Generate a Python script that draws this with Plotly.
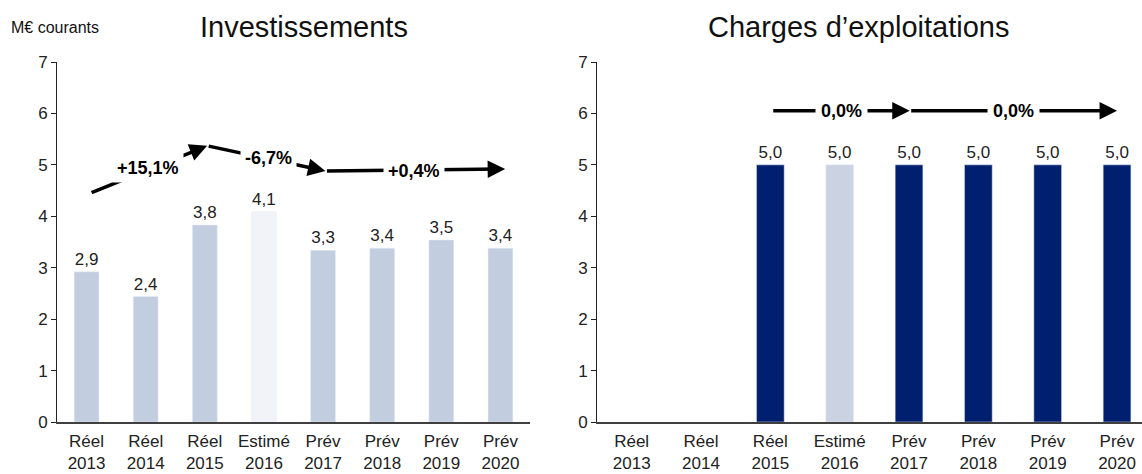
import plotly.graph_objects as go
from plotly.subplots import make_subplots

categories = ["Réel<br>2013", "Réel<br>2014", "Réel<br>2015", "Estimé<br>2016",
              "Prév<br>2017", "Prév<br>2018", "Prév<br>2019", "Prév<br>2020"]

invest_values = [2.92, 2.44, 3.83, 4.09, 3.34, 3.38, 3.54, 3.38]
invest_labels = ["2,9", "2,4", "3,8", "4,1", "3,3", "3,4", "3,5", "3,4"]

charges_values = [None, None, 5.0, 5.0, 5.0, 5.0, 5.0, 5.0]
charges_labels = ["", "", "5,0", "5,0", "5,0", "5,0", "5,0", "5,0"]

# growth arrows (x in category index units)
invest_arrow_x0 = [0.06, 2.04, 4.04]
invest_arrow_y0 = [4.45, 5.37, 4.88]
invest_arrow_x1 = [2.04, 4.04, 7.08]
invest_arrow_y1 = [5.37, 4.88, 4.92]
invest_growth = ["+15,1%", "-6,7%", "+0,4%"]
invest_growth_x = [1.04, 3.07, 5.54]
invest_growth_y = [4.94, 5.14, 4.88]

charges_arrow_x0 = [2.02, 4.01]
charges_arrow_x1 = [4.01, 7.0]
charges_arrow_y = [6.05, 6.05]
charges_growth = ["0,0%", "0,0%"]
charges_growth_x = [3.02, 5.51]

LIGHT = "#c3cde0"
PALE = "#f2f3f8"
NAVY = "#001f6e"
GREYBLUE = "#cbd3e3"
FONT = "Arial, Liberation Sans, sans-serif"

invest_colors = [PALE if c.startswith("Estimé") else LIGHT for c in categories]
charges_colors = [GREYBLUE if c.startswith("Estimé") else NAVY for c in categories]

W, H = 1142, 474

fig = make_subplots(rows=1, cols=2)

fig.add_trace(go.Bar(x=categories, y=invest_values, marker_color=invest_colors,
                     text=invest_labels, textposition="outside", cliponaxis=False,
                     textfont=dict(size=17, color="#222"), width=0.42), row=1, col=1)
fig.add_trace(go.Bar(x=categories, y=charges_values, marker_color=charges_colors,
                     text=charges_labels, textposition="outside", cliponaxis=False,
                     textfont=dict(size=17, color="#222"), width=0.4), row=1, col=2)

y0 = 1 - 422 / H
y1 = 1 - 62 / H
fig.update_layout(
    width=W, height=H, margin=dict(l=0, r=0, t=0, b=0),
    plot_bgcolor="white", paper_bgcolor="white", showlegend=False,
    font=dict(family=FONT, color="#222"),
    xaxis=dict(domain=[57 / W, 530 / W], range=[-0.5, 7.5]),
    xaxis2=dict(domain=[597 / W, 1.0], range=[-0.5, 7.36]),
    yaxis=dict(domain=[y0, y1]),
    yaxis2=dict(domain=[y0, y1]),
)
fig.update_xaxes(showline=True, linecolor="#404040", linewidth=1.5, ticks="",
                 ticklabelstandoff=3, showgrid=False,
                 tickfont=dict(size=17, color="#222"), automargin=False)
fig.update_yaxes(range=[0, 7], dtick=1, showline=True, linecolor="#222", linewidth=1,
                 ticks="outside", ticklen=5, tickcolor="#222", showgrid=False,
                 zeroline=False, tickfont=dict(size=17, color="#222"), automargin=False)

ann = []
for x0, ya, x1, yb in zip(invest_arrow_x0, invest_arrow_y0, invest_arrow_x1, invest_arrow_y1):
    ann.append(dict(x=x1, y=yb, ax=x0, ay=ya, xref="x", yref="y", axref="x", ayref="y",
                    text="", showarrow=True, arrowhead=2, arrowsize=1, arrowwidth=3.5,
                    arrowcolor="black", standoff=0, startstandoff=0))
for t, x, y in zip(invest_growth, invest_growth_x, invest_growth_y):
    ann.append(dict(x=x, y=y, xref="x", yref="y", text="<b>" + t + "</b>", showarrow=False,
                    bgcolor="white", borderpad=4, font=dict(size=18, color="black")))
for x0, x1, y in zip(charges_arrow_x0, charges_arrow_x1, charges_arrow_y):
    ann.append(dict(x=x1, y=y, ax=x0, ay=y, xref="x2", yref="y2", axref="x2", ayref="y2",
                    text="", showarrow=True, arrowhead=2, arrowsize=1, arrowwidth=3.5,
                    arrowcolor="black", standoff=0, startstandoff=0))
for t, x, y in zip(charges_growth, charges_growth_x, charges_arrow_y):
    ann.append(dict(x=x, y=y, xref="x2", yref="y2", text="<b>" + t + "</b>", showarrow=False,
                    bgcolor="white", borderpad=5, font=dict(size=18, color="black")))

ann.append(dict(x=304 / W, y=1 - 27 / H, xref="paper", yref="paper", text="Investissements",
                xanchor="center", yanchor="middle", showarrow=False,
                font=dict(size=29, color="#111")))
ann.append(dict(x=858 / W, y=1 - 27 / H, xref="paper", yref="paper", text="Charges d’exploitations",
                xanchor="center", yanchor="middle", showarrow=False,
                font=dict(size=29, color="#111")))
ann.append(dict(x=9 / W, y=1 - 28 / H, xref="paper", yref="paper", text="M€ courants",
                xanchor="left", yanchor="middle", showarrow=False,
                font=dict(size=16, color="#111")))
fig.update_layout(annotations=ann)

fig.write_html("out.html", config={"displayModeBar": False},
               post_script="document.body.style.margin='0';")
